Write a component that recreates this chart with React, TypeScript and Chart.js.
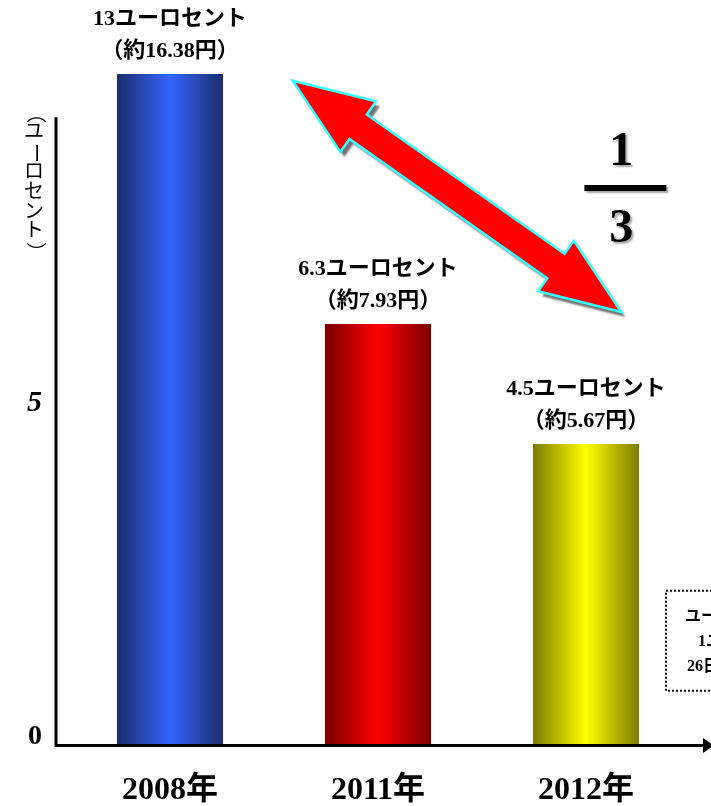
import { useEffect, useRef } from 'react';
import { Chart, registerables } from 'chart.js';

Chart.register(...registerables);

// ---- data ----
const categories = ['2008年', '2011年', '2012年'];
const euroCents = [13, 6.3, 4.5];
const yenValues = [16.38, 7.93, 5.67];
const yTicks = [0, 5];
const yAxisTitle = '（ユーロセント）';
const fractionTop = '1';
const fractionBottom = '3';
const noteLines = ['ユーロ円換算', '1ユーロ＝', '26日時点'];

// ---- styles ----
const SERIF = '"Liberation Serif", "Noto Sans CJK JP", serif';
const barGradients = [
  ['#1b2d6b', '#3366ff', '#1b2d6b'],
  ['#7a0000', '#ff0000', '#7a0000'],
  ['#7a7a00', '#ffff00', '#7a7a00'],
];
const BAR_PCT = 0.51;
const Y_MAX = 10.05;
const Y_AXIS_TOP = 9.4;
// annotation anchors in data coordinates
const arrowFrom = { x: 0.59, y: 9.95 };
const arrowTo = { x: 2.17, y: 6.48 };
const fractionAt = { x: 2.17, y: 8.34 };

const decorPlugin = {
  id: 'decor',
  afterDatasetsDraw(chart: any) {
    const { ctx, chartArea } = chart;
    const xs = chart.scales.x;
    const ys = chart.scales.y;
    const meta = chart.getDatasetMeta(0);
    ctx.save();

    // data labels
    ctx.fillStyle = '#000';
    ctx.textAlign = 'center';
    ctx.textBaseline = 'middle';
    ctx.font = `bold 22px ${SERIF}`;
    meta.data.forEach((bar: any, i: number) => {
      const top = Math.max(bar.y, chartArea.top);
      ctx.fillText(`${euroCents[i]}ユーロセント`, bar.x, top - 55);
      ctx.fillText(`（約${yenValues[i]}円）`, bar.x, top - 23);
    });

    // axes lines
    const axisX = chartArea.left - 10;
    const axisY = chartArea.bottom;
    ctx.strokeStyle = '#000';
    ctx.lineWidth = 3;
    ctx.beginPath();
    ctx.moveTo(axisX, ys.getPixelForValue(Y_AXIS_TOP));
    ctx.lineTo(axisX, axisY + 1.5);
    ctx.lineTo(chartArea.right + 15, axisY + 1.5);
    ctx.stroke();
    ctx.fillStyle = '#000';
    ctx.beginPath();
    ctx.moveTo(chartArea.right + 24, axisY + 1.5);
    ctx.lineTo(chartArea.right + 13, axisY - 6);
    ctx.lineTo(chartArea.right + 13, axisY + 9);
    ctx.closePath();
    ctx.fill();

    // vertical y-axis title
    ctx.font = `20px ${SERIF}`;
    ctx.fillStyle = '#000';
    const tx = chartArea.left - 32;
    let ty = ys.getPixelForValue(Y_AXIS_TOP) - 4;
    for (const ch of Array.from(yAxisTitle)) {
      ctx.save();
      ctx.translate(tx, ty);
      if (ch === '（' || ch === '）' || ch === 'ー') ctx.rotate(Math.PI / 2);
      ctx.fillText(ch, 0, 0);
      ctx.restore();
      ty += 19.8;
    }

    // double-headed arrow
    const ax = xs.getPixelForValue(arrowFrom.x), ay = ys.getPixelForValue(arrowFrom.y);
    const bx = xs.getPixelForValue(arrowTo.x), by = ys.getPixelForValue(arrowTo.y);
    const dx = bx - ax, dy = by - ay;
    const len = Math.hypot(dx, dy);
    const ux = dx / len, uy = dy / len;
    const nx = -uy, ny = ux;
    const headLen = 80, headHalf = 31, shaftHalf = 15;
    const P = (along: number, across: number) => [ax + ux * along + nx * across, ay + uy * along + ny * across];
    const pts = [
      P(0, 0),
      P(headLen, -headHalf),
      P(headLen, -shaftHalf),
      P(len - headLen, -shaftHalf),
      P(len - headLen, -headHalf),
      P(len, 0),
      P(len - headLen, headHalf),
      P(len - headLen, shaftHalf),
      P(headLen, shaftHalf),
      P(headLen, headHalf),
    ];
    const path = () => {
      ctx.beginPath();
      pts.forEach((p, i) => (i ? ctx.lineTo(p[0], p[1]) : ctx.moveTo(p[0], p[1])));
      ctx.closePath();
    };
    ctx.save();
    ctx.shadowColor = 'rgba(80,80,80,0.8)';
    ctx.shadowOffsetX = 4;
    ctx.shadowOffsetY = 5;
    ctx.shadowBlur = 2;
    path();
    ctx.fillStyle = '#ff0000';
    ctx.fill();
    ctx.restore();
    path();
    ctx.strokeStyle = '#33ffff';
    ctx.lineWidth = 2.5;
    ctx.lineJoin = 'miter';
    ctx.stroke();

    // fraction 1/3
    const fx = xs.getPixelForValue(fractionAt.x);
    const fy = ys.getPixelForValue(fractionAt.y);
    ctx.save();
    ctx.shadowColor = 'rgba(0,0,0,0.35)';
    ctx.shadowOffsetX = 2;
    ctx.shadowOffsetY = 2;
    ctx.shadowBlur = 2;
    ctx.fillStyle = '#000';
    ctx.font = `bold 48px ${SERIF}`;
    ctx.textAlign = 'center';
    ctx.textBaseline = 'middle';
    ctx.fillText(fractionTop, fx, fy - 35);
    ctx.fillText(fractionBottom, fx, fy + 42);
    ctx.fillRect(fx - 37, fy - 3, 82, 6);
    ctx.restore();

    // dotted note box (partially outside the view)
    const boxL = chartArea.right - 24;
    const boxT = ys.getPixelForValue(2.3);
    ctx.save();
    ctx.strokeStyle = '#000';
    ctx.lineWidth = 2;
    ctx.setLineDash([2, 2]);
    ctx.strokeRect(boxL, boxT, 120, 100);
    ctx.restore();
    ctx.font = `bold 16px ${SERIF}`;
    ctx.textAlign = 'left';
    ctx.textBaseline = 'middle';
    ctx.fillStyle = '#000';
    const offs = [19, 32, 21];
    noteLines.forEach((t, i) => ctx.fillText(t, boxL + offs[i], boxT + 26 + i * 25));

    ctx.restore();
  },
};

export default function App() {
  const ref = useRef<HTMLCanvasElement | null>(null);
  useEffect(() => {
    document.body.style.margin = '0';
    document.body.style.overflow = 'hidden';
    const canvas = ref.current;
    if (!canvas) return;
    const chart = new Chart(canvas, {
      type: 'bar',
      data: {
        labels: categories,
        datasets: [
          {
            data: euroCents,
            categoryPercentage: 1,
            barPercentage: BAR_PCT,
            borderWidth: 0,
            backgroundColor: (c: any) => {
              const chartRef = c.chart;
              const xs = chartRef.scales?.x;
              const i = c.dataIndex ?? 0;
              const stops = barGradients[i % barGradients.length];
              if (!xs || !xs.width) return stops[1];
              const cx = xs.getPixelForValue(i);
              const w = (xs.width / categories.length) * BAR_PCT;
              const g = chartRef.ctx.createLinearGradient(cx - w / 2, 0, cx + w / 2, 0);
              g.addColorStop(0, stops[0]);
              g.addColorStop(0.5, stops[1]);
              g.addColorStop(1, stops[2]);
              return g;
            },
          },
        ],
      },
      options: {
        responsive: false,
        animation: false,
        layout: { padding: { left: 0, right: 70, top: 74, bottom: 0 } },
        plugins: { legend: { display: false }, tooltip: { enabled: false } },
        scales: {
          x: {
            type: 'category',
            offset: true,
            grid: { display: false, drawTicks: false },
            border: { display: false },
            ticks: {
              color: '#000',
              padding: 28,
              font: { family: SERIF, size: 32, weight: 'bold' },
              maxRotation: 0,
            },
            afterFit: (s: any) => {
              s.height = 62;
            },
          },
          y: {
            min: 0,
            max: Y_MAX,
            grid: { display: false, drawTicks: false },
            border: { display: false },
            afterBuildTicks: (s: any) => {
              s.ticks = yTicks.map((v) => ({ value: v }));
            },
            ticks: {
              color: '#000',
              padding: 24,
              labelOffset: -7,
              font: (c: any) =>
                c.tick && c.tick.value === 5
                  ? { family: SERIF, size: 30, weight: 'bold', style: 'italic' }
                  : { family: SERIF, size: 28, weight: 'bold' },
            },
            afterFit: (s: any) => {
              s.width = 66;
            },
          },
        },
      } as any,
      plugins: [decorPlugin],
    });
    return () => chart.destroy();
  }, []);
  return (
    <div style={{ width: 760, height: 806, position: 'relative' }}>
      <canvas ref={ref} width={760} height={806} style={{ display: 'block' }} />
    </div>
  );
}
